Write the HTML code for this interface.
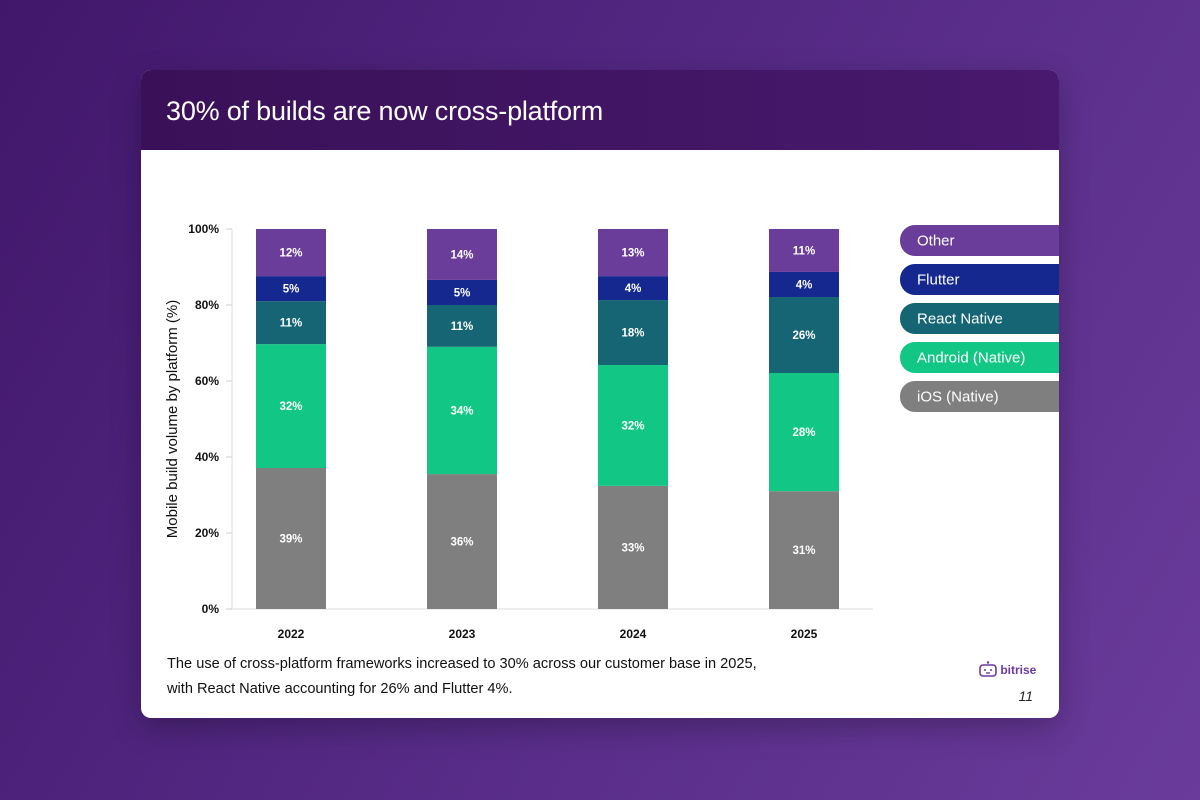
<!DOCTYPE html>
<html><head><meta charset="utf-8"><style>
body{margin:0;width:1200px;height:800px;overflow:hidden;background:linear-gradient(120deg,#41176b 0%,#552a85 50%,#6a3b9b 100%);font-family:"Liberation Sans",sans-serif;}
.card{position:absolute;left:141px;top:70px;width:918px;height:648px;background:#fff;border-radius:10px;overflow:hidden;box-shadow:0 10px 30px rgba(0,0,0,.25);}
.hdr{position:absolute;left:0;top:0;width:918px;height:80px;background:linear-gradient(90deg,#3a1158,#48196e);}
.hdr h1{margin:0;position:absolute;left:25px;top:26px;color:#fff;font-size:27px;font-weight:normal;letter-spacing:-0.2px;}
.cap{position:absolute;left:26px;top:582px;font-size:14.6px;color:#111;line-height:25px;}
.pg{position:absolute;right:26px;top:618px;font-size:14px;font-style:italic;color:#222;}
.logo{position:absolute;left:838px;top:591px;color:#6b3aa0;font-weight:bold;font-size:12px;}
</style></head><body>
<div class="card">
<div class="hdr"><h1>30% of builds are now cross-platform</h1></div>
<svg id="chart" width="918" height="648" style="position:absolute;left:0;top:0"></svg>
<div class="cap">The use of cross-platform frameworks increased to 30% across our customer base in 2025,<br>with React Native accounting for 26% and Flutter 4%.</div>
<div class="logo"><svg width="18" height="16" style="vertical-align:-3px"><rect x="1" y="4" width="16" height="11" rx="3" fill="none" stroke="#6b3aa0" stroke-width="1.6"/><circle cx="9" cy="1.5" r="1.2" fill="#6b3aa0"/><circle cx="6" cy="9" r="1" fill="#6b3aa0"/><circle cx="12" cy="9" r="1" fill="#6b3aa0"/><path d="M7 12h4" stroke="#6b3aa0" stroke-width="1.4"/></svg> bitrise</div>
<div class="pg">11</div>
</div>
<script>
const years=["2022","2023","2024","2025"];
const series=["iOS (Native)","Android (Native)","React Native","Flutter","Other"];
const colors=["#7f7f7f","#12c785","#166574","#15288f","#6b3d9a"];
const ios=[37.1,35.5,32.4,31];
const android=[32.6,33.5,31.8,31.1];
const reactNative=[11.3,11,17.1,20];
const flutter=[6.6,6.6,6.3,6.6];
const other=[12.4,13.4,12.4,11.3];
const iosLbl=["39%","36%","33%","31%"];
const androidLbl=["32%","34%","32%","28%"];
const rnLbl=["11%","11%","18%","26%"];
const flutterLbl=["5%","5%","4%","4%"];
const otherLbl=["12%","14%","13%","11%"];
const ticks=[0,20,40,60,80,100];
const vals=[ios,android,reactNative,flutter,other];
const lbls=[iosLbl,androidLbl,rnLbl,flutterLbl,otherLbl];
const svg=document.getElementById('chart');const NS="http://www.w3.org/2000/svg";
function mk(t,a,txt){const e=document.createElementNS(NS,t);for(const k in a)e.setAttribute(k,a[k]);if(txt!=null)e.textContent=txt;svg.appendChild(e);return e;}
const y0=539,y1=159,xL=91,xR=732;
const y=v=>y0-(v/100)*(y0-y1);
const x=i=>115+i*171;
const bw=70;
let e=mk('line',{x1:xL,y1:y1,x2:xL,y2:y0,stroke:'#ddd'});


e=mk('line',{x1:xL,y1:y0,x2:xR,y2:y0,stroke:'#ddd'});


ticks.forEach(t=>{
 e=mk('line',{x1:xL-6,y1:y(t),x2:xL,y2:y(t),stroke:'#ccc'});
 
 
 e=mk('text',{x:xL-13,y:y(t)+4,'text-anchor':'end','font-size':12,'font-weight':'bold',fill:'#111'},t+'%');
 
 
});
e=mk('text',{x:0,y:0,transform:'translate(36,'+((y0+y1)/2)+') rotate(-90)','text-anchor':'middle','font-size':15,fill:'#111'},'Mobile build volume by platform (%)');


years.forEach((yr,i)=>{
 let acc=0;
 vals.forEach((s,k)=>{
  const v=s[i];const top=y(acc+v),bot=y(acc);
  e=mk('rect',{x:x(i),y:top,width:bw,height:bot-top,fill:colors[k]});
  
  
  e=mk('text',{x:x(i)+bw/2,y:(top+bot)/2+4,'text-anchor':'middle','font-size':11.5,'font-weight':'bold',fill:'#fff'},lbls[k][i]);
  
  
  acc+=v;
 });
 e=mk('text',{x:x(i)+bw/2,y:568,'text-anchor':'middle','font-size':12,'font-weight':'bold',fill:'#111'},yr);
 
 
});
for(let k=4;k>=0;k--){
 const cy=170+(4-k)*39;
 e=mk('rect',{x:759,y:cy-15,width:200,height:31,rx:15,fill:colors[k]});
 
 
 e=mk('text',{x:776,y:cy+5.5,'font-size':15,fill:'#fff'},series[k]);
 
 
}
</script>
</body></html>
